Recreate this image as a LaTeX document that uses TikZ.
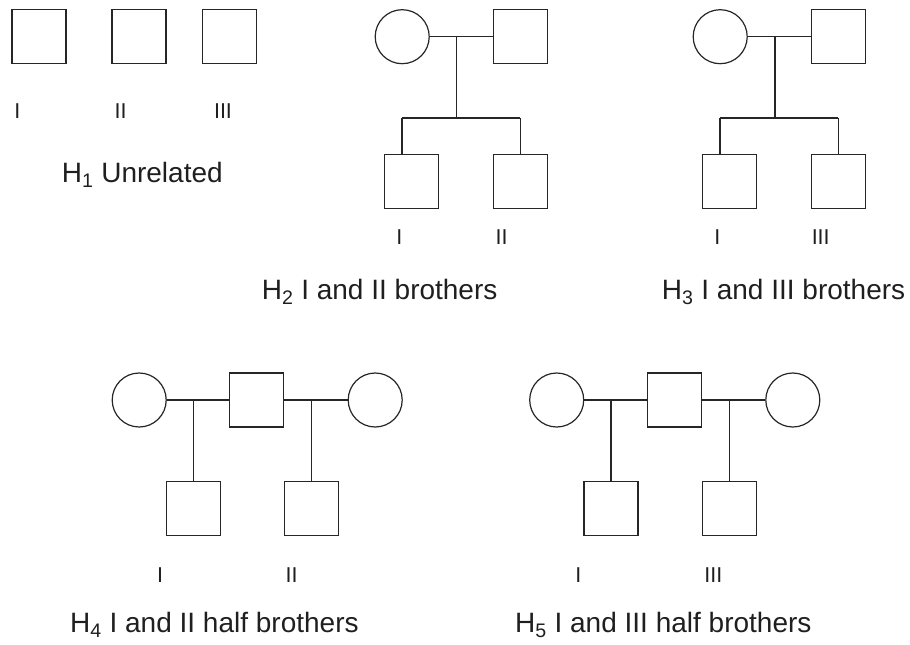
\documentclass[tikz,border=0pt]{standalone}
\usepackage{fontspec}
\setmainfont{Liberation Sans}
\begin{document}
\begin{tikzpicture}[x=1pt,y=-1pt,
  ink/.style={draw=black!85, line width=1.2pt},
  male/.style={ink, rectangle, minimum size=54pt, inner sep=0pt},
  female/.style={ink, circle, minimum size=54pt, inner sep=0pt},
  tag/.style={text=black!88, font=\fontsize{21.5}{24}\selectfont, inner sep=0pt},
  caption/.style={text=black!88, font=\fontsize{28}{32}\selectfont, inner sep=0pt, anchor=base west},
  link/.style={ink}]
\useasboundingbox (0,0) rectangle (910,645);

% H1: three unrelated individuals
\node[male] (a1) at (39,36.7) {};
\node[male] (a2) at (139,36.7) {};
\node[male] (a3) at (229.7,36.7) {};
\node[tag] (la1) at (17.3,111) {I};
\node[tag] (la2) at (120.7,111) {II};
\node[tag] (la3) at (223,111) {III};
\node[caption] (h1) at (61.7,182.7) {H\textsubscript{1} Unrelated};

% H2: I and II full brothers
\node[female] (bm) at (402.2,36.7) {};
\node[male] (bf) at (520.2,36.7) {};
\node[male] (bc1) at (411.2,181.8) {};
\node[male] (bc2) at (520.2,181.8) {};
\coordinate (bd) at (456.7,36.7);
\coordinate (bs) at (456.7,118);
\coordinate (bsl) at (402,118);
\coordinate (bsr) at (520.2,118);
\draw[link] (bm) -- (bf);
\draw[link] (bd) -- (bs);
\draw[link] (bsl) -- (bsr);
\draw[link] (bsl) -- (bsl |- bc1.north);
\draw[link] (bsr) -- (bc2.north);
\node[tag] (lb1) at (399.3,237.5) {I};
\node[tag] (lb2) at (501.7,237.5) {II};
\node[caption] (h2) at (261.7,299.3) {H\textsubscript{2} I and II brothers};

% H3: I and III full brothers
\node[female] (cm) at (720.2,36.7) {};
\node[male] (cf) at (838.2,36.7) {};
\node[male] (cc1) at (729.2,181.8) {};
\node[male] (cc2) at (838.2,181.8) {};
\coordinate (cd) at (775,36.7);
\coordinate (cs) at (775,118);
\coordinate (csl) at (720,118);
\coordinate (csr) at (838.2,118);
\draw[link] (cm) -- (cf);
\draw[link] (cd) -- (cs);
\draw[link] (csl) -- (csr);
\draw[link] (csl) -- (csl |- cc1.north);
\draw[link] (csr) -- (cc2.north);
\node[tag] (lc1) at (717.3,237.5) {I};
\node[tag] (lc2) at (820.7,237.5) {III};
\node[caption] (h3) at (661.7,299.3) {H\textsubscript{3} I and III brothers};

% H4: I and II half brothers
\node[female] (dm1) at (139.2,400) {};
\node[male] (df) at (256.8,400) {};
\node[female] (dm2) at (375.2,400) {};
\node[male] (dc1) at (193.3,508.8) {};
\node[male] (dc2) at (311.5,508.8) {};
\coordinate (dd1) at (193.3,400);
\coordinate (dd2) at (311.5,400);
\draw[link] (dm1) -- (df);
\draw[link] (df) -- (dm2);
\draw[link] (dd1) -- (dc1.north);
\draw[link] (dd2) -- (dc2.north);
\node[tag] (ld1) at (160,575) {I};
\node[tag] (ld2) at (291.7,575) {II};
\node[caption] (h4) at (70,632.7) {H\textsubscript{4} I and II half brothers};

% H5: I and III half brothers
\node[female] (em1) at (556.7,400) {};
\node[male] (ef) at (674.8,400) {};
\node[female] (em2) at (792.8,400) {};
\node[male] (ec1) at (611,508.8) {};
\node[male] (ec2) at (729.2,508.8) {};
\coordinate (ed1) at (611,400);
\coordinate (ed2) at (729.2,400);
\draw[link] (em1) -- (ef);
\draw[link] (ef) -- (em2);
\draw[link] (ed1) -- (ec1.north);
\draw[link] (ed2) -- (ec2.north);
\node[tag] (le1) at (578.3,575) {I};
\node[tag] (le2) at (713.3,575) {III};
\node[caption] (h5) at (515,632.7) {H\textsubscript{5} I and III half brothers};
\end{tikzpicture}
\end{document}
